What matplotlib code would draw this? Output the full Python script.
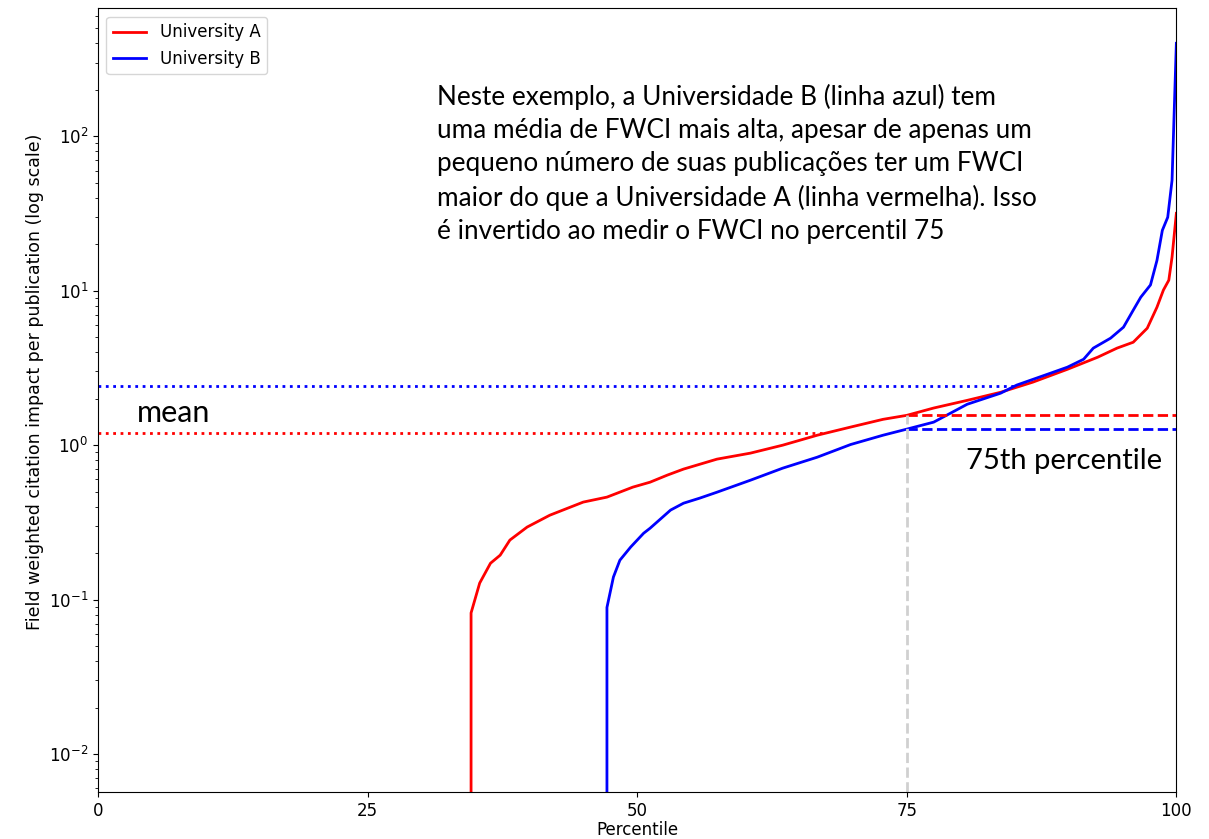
import matplotlib
matplotlib.use("Agg")
import matplotlib.pyplot as plt

# percentile vs FWCI
pct_a = [34.6, 34.6, 35.4, 36.4, 37.3, 38.2, 39.8, 41.9, 45.0, 47.2, 49.6, 51.2,
         52.8, 54.3, 57.4, 60.5, 63.5, 66.7, 69.8, 72.8, 75.0, 77.5, 80.6, 83.7,
         86.7, 89.9, 92.7, 94.5, 96.0, 97.3, 98.2, 98.8, 99.3, 99.6, 100.0]
fwci_a = [0, 0.082, 0.128, 0.172, 0.194, 0.243, 0.295, 0.352, 0.428, 0.461, 0.535, 0.576,
          0.640, 0.700, 0.812, 0.888, 1.0, 1.16, 1.31, 1.47, 1.56, 1.74, 1.95, 2.20,
          2.56, 3.10, 3.71, 4.25, 4.64, 5.72, 7.82, 10.1, 11.7, 16.5, 31.7]

pct_b = [47.2, 47.2, 47.8, 48.4, 49.4, 50.6, 51.2, 53.1, 54.3, 55.8, 57.4, 60.5,
         63.5, 66.7, 69.8, 72.8, 75.0, 77.5, 80.6, 83.7, 85.2, 88.3, 89.9, 91.4,
         92.3, 93.9, 95.1, 96.0, 96.7, 97.6, 98.2, 98.7, 99.2, 99.6, 100.0]
fwci_b = [0, 0.089, 0.140, 0.180, 0.219, 0.269, 0.29, 0.38, 0.421, 0.454, 0.496, 0.593,
          0.710, 0.836, 1.01, 1.16, 1.27, 1.41, 1.84, 2.17, 2.45, 2.92, 3.20, 3.60,
          4.25, 4.93, 5.81, 7.48, 9.08, 10.9, 15.7, 24.6, 29.9, 51.9, 400]

mean_a, mean_b = 1.20, 2.41
mean_end_a, mean_end_b = 67.4, 84.9
p75_a, p75_b = 1.56, 1.27

note = ("Neste exemplo, a Universidade B (linha azul) tem\n"
        "uma média de FWCI mais alta, apesar de apenas um\n"
        "pequeno número de suas publicações ter um FWCI\n"
        "maior do que a Universidade A (linha vermelha). Isso\n"
        "é invertido ao medir o FWCI no percentil 75")

fig = plt.figure(figsize=(12.09, 8.39), dpi=100)
ax = fig.add_axes([0.081, 0.056, 0.892, 0.934])

ax.plot(pct_a, fwci_a, color="red", lw=2, label="University A")
ax.plot(pct_b, fwci_b, color="blue", lw=2, label="University B")

ax.set_yscale("log")
ax.set_xlim(0, 100)
ax.set_ylim(0.00568, 673)

# mean lines
ax.plot([0, mean_end_a], [mean_a, mean_a], color="red", ls=":", lw=2)
ax.plot([0, mean_end_b], [mean_b, mean_b], color="blue", ls=":", lw=2)

# 75th percentile lines
ax.plot([75, 100], [p75_a, p75_a], color="red", ls="--", lw=2)
ax.plot([75, 100], [p75_b, p75_b], color="blue", ls="--", lw=2)
ax.plot([75, 75], [0.00568, p75_a], color="#d0d0d0", ls="--", lw=2)

ax.set_xticks([0, 25, 50, 75, 100])
ax.tick_params(labelsize=12)
ax.set_xlabel("Percentile", fontsize=12, labelpad=1)
ax.set_ylabel("Field weighted citation impact per publication (log scale)", fontsize=12.5)
ax.yaxis.set_label_coords(-0.05, 0.523)

ax.legend(loc="upper left", fontsize=12)

ax.text(3.6, 1.61, "mean", fontsize=22, family="Lato", va="center")
ax.text(98.7, 0.785, "75th percentile", fontsize=21, family="Lato", va="center", ha="right")
ax.text(31.4, 217, note, fontsize=18.8, family="Lato", va="top", linespacing=1.4)

fig.savefig("out.png", dpi=100)
